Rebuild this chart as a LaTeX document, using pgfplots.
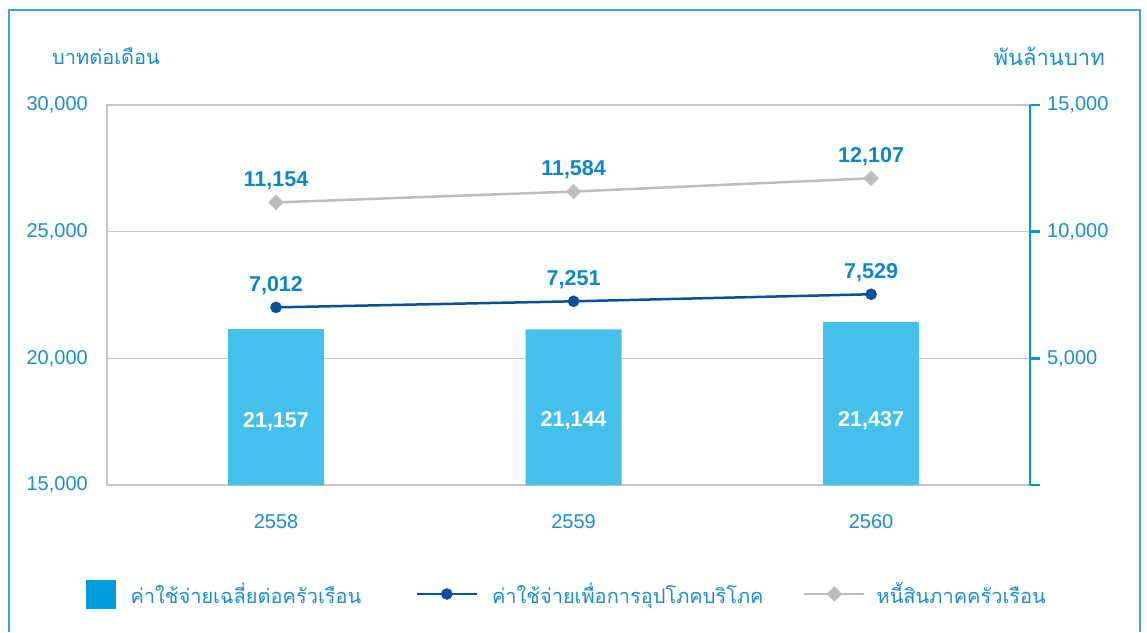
\documentclass[border=0pt]{standalone}
\usepackage{fontspec}
\usepackage{pgfplots}
\pgfplotsset{compat=1.18}
\setmainfont{Liberation Sans}
\newfontfamily\thai[Script=Thai]{Loma}

\definecolor{txtblue}{HTML}{1A8DD1}
\definecolor{valblue}{HTML}{0A87CB}
\definecolor{barblue}{HTML}{45C0EA}
\definecolor{legblue}{HTML}{009DDC}
\definecolor{lineblue}{HTML}{0B4F9C}
\definecolor{linegray}{HTML}{BDBDBD}
\definecolor{gridgray}{HTML}{C6C6C6}
\definecolor{axisblue}{HTML}{0096DB}
\definecolor{framecol}{HTML}{3DA2DD}

\newcommand{\fs}{\fontsize{20}{24}\selectfont}
\newcommand{\fv}{\fontsize{21.5}{25}\selectfont}

\pgfplotsset{
  common/.style={
    scale only axis, width=923pt, height=380pt,
    at={(107pt,147pt)}, anchor=south west,
    xmin=-0.568, xmax=2.534,
    scaled y ticks=false,
    /pgf/number format/assume math mode=true,
    /pgf/number format/.cd, fixed, 1000 sep={,}, /pgfplots/.cd,
    tick label style={font=\fs, text=txtblue},
  },
  linelegend/.style={legend image code/.code={
    \draw[mark repeat=2,mark phase=2,##1] plot coordinates {(0pt,0pt) (30pt,0pt) (60pt,0pt)};}},
}

\begin{document}
\begin{tikzpicture}
\useasboundingbox (0,0) rectangle (1147pt,632pt);
\draw[framecol, line width=1.5pt] (9pt,0pt) -- (9pt,622pt) -- (1140pt,622pt) -- (1140pt,0pt);

\node[anchor=west, text=txtblue, font=\fs\thai, inner sep=0pt] at (52pt,576pt) {บาทต่อเดือน};
\node[anchor=east, text=txtblue, font=\fontsize{22}{26}\selectfont\thai, inner sep=0pt] at (1105pt,576pt) {พันล้านบาท};

% left axis: bars
\begin{axis}[common,
    ymin=15000, ymax=30000, ytick={15000,20000,25000,30000},
    xtick={0,1,2}, xticklabels={2558,2559,2560},
    axis line style={draw=gridgray, line width=1.5pt},
    major tick style={draw=none},
    ymajorgrids, grid style={draw=gridgray, line width=1.2pt},
    yticklabel style={anchor=east, inner sep=0pt, xshift=-19pt},
    xticklabel style={anchor=center, inner sep=0pt, yshift=-37pt},
  ]
  \addplot[ybar, bar width=96pt, fill=barblue, draw=none] coordinates {
    (0,21157) (1,21144) (2,21437)};
  \node[text=white, font=\fv\bfseries] at (axis cs:0,17500) {21,157};
  \node[text=white, font=\fv\bfseries] at (axis cs:1,17550) {21,144};
  \node[text=white, font=\fv\bfseries] at (axis cs:2,17550) {21,437};
\end{axis}

% right axis: lines
\begin{axis}[common,
    ymin=0, ymax=15000, ytick={0,5000,10000,15000},
    yticklabels={,{5,000},{10,000},{15,000}},
    axis x line=none, axis y line*=right,
    y axis line style={draw=axisblue, line width=2.5pt, -},
    ytick style={draw=axisblue, line width=2.5pt},
    tick align=outside, major tick length=10pt,
    yticklabel style={anchor=west, inner sep=0pt, xshift=7pt},
    nodes near coords, point meta=y,
    nodes near coords style={anchor=center, yshift=22pt, font=\fv\bfseries, text=valblue},
    legend columns=3,
    legend style={at={(axis description cs:-0.02275,-0.2868)}, anchor=west,
      draw=none, fill=none, inner sep=0pt, column sep=0pt,
      nodes={inner sep=0pt, anchor=west, font=\fs\thai, text=txtblue}},
  ]
  \addlegendimage{legend image code/.code={\fill[legblue] (0pt,-14pt) rectangle (29pt,14pt);}}
  \addlegendentry{\makebox[300pt][l]{\hspace{15pt}ค่าใช้จ่ายเฉลี่ยต่อครัวเรือน}}
  \addplot[color=lineblue, line width=2.5pt, mark=*, mark size=4.5pt, linelegend] coordinates {
    (0,7012) (1,7251) (2,7529)};
  \addlegendentry{\makebox[325pt][l]{\hspace{14pt}ค่าใช้จ่ายเพื่อการอุปโภคบริโภค}}
  \addplot[color=linegray, line width=2.5pt, mark=square*, mark size=4.2pt,
    mark options={rotate=45}, linelegend] coordinates {
    (0,11154) (1,11584) (2,12107)};
  \addlegendentry{\hspace{11pt}หนี้สินภาคครัวเรือน}
\end{axis}
\end{tikzpicture}
\end{document}
